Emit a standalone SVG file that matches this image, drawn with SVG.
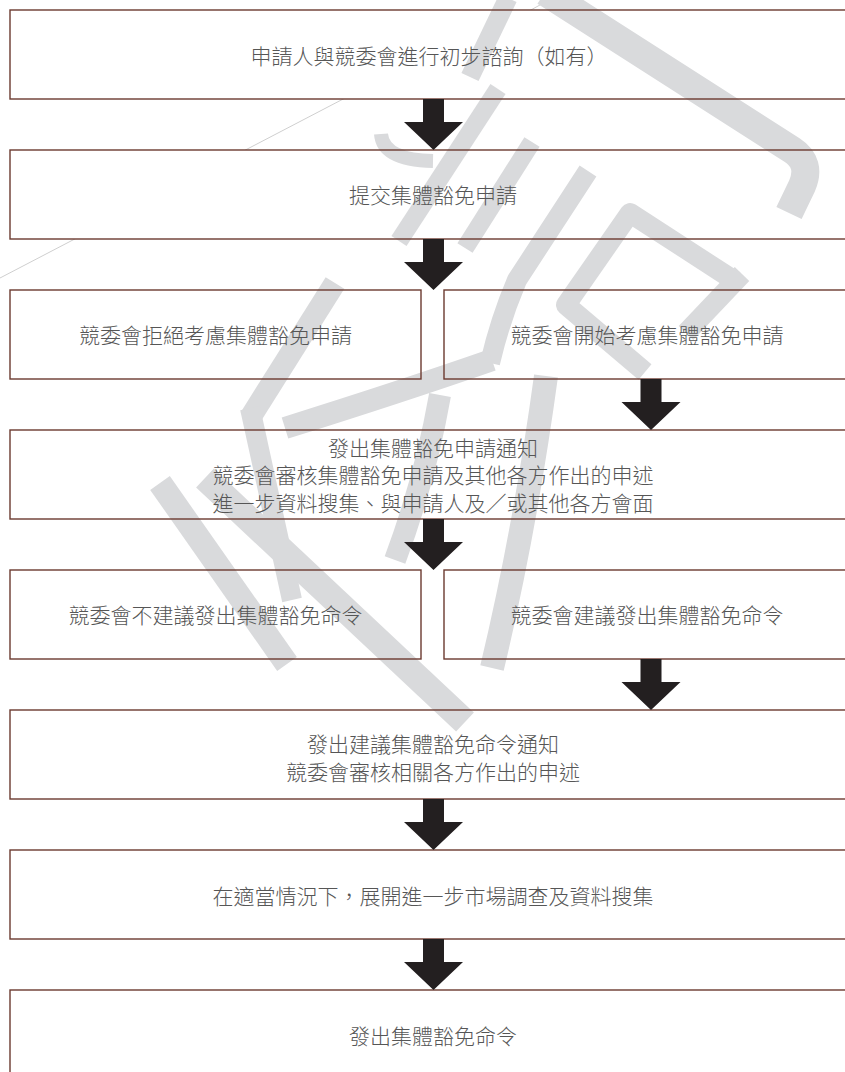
<svg xmlns="http://www.w3.org/2000/svg" width="845" height="1072" viewBox="0 0 845 1072">
<style>
.box{fill:#ffffff;stroke:none}
.bd{fill:none;stroke:#6b3a2f;stroke-width:1.4}
.t{font-family:"Noto Sans CJK TC","Noto Sans CJK SC",sans-serif;font-size:21px;font-weight:300;fill:#565656;text-anchor:middle}
.wm{fill:none;stroke:#d9dadc;stroke-linecap:butt;stroke-linejoin:round}
.arr{fill:#231f20}
</style>
<defs>
<path id="a" d="M-10.5,0 H10.5 V23 H29.5 L0,51 L-29.5,23 H-10.5 Z"/>
</defs>
<rect width="845" height="1072" fill="#ffffff"/>
<line x1="0" y1="278" x2="347" y2="97" stroke="#cfcfcf" stroke-width="1"/>
<line x1="529" y1="11" x2="549" y2="0" stroke="#cfcfcf" stroke-width="1"/>
<g id="fills">
<rect class="box" x="10" y="10" width="845" height="89"/>
<rect class="box" x="10" y="150" width="845" height="89"/>
<rect class="box" x="10" y="290" width="411" height="89"/>
<rect class="box" x="444" y="290" width="411" height="89"/>
<rect class="box" x="10" y="430" width="845" height="89"/>
<rect class="box" x="10" y="570" width="411" height="89"/>
<rect class="box" x="444" y="570" width="411" height="89"/>
<rect class="box" x="10" y="710" width="845" height="89"/>
<rect class="box" x="10" y="850" width="845" height="89"/>
<rect class="box" x="10" y="990" width="845" height="89"/>
</g>
<g id="watermark">
<path class="wm" stroke-width="28" d="M545,-8 L792,150 Q812,163 802,186 L789,213"/>
<path class="wm" stroke-width="19" d="M508,-2 L470,77"/>
<path class="wm" stroke-width="18" d="M498,89 L399,241"/>
<path class="wm" stroke-width="14" d="M381,134 Q383,160 433,161"/>
<path class="wm" stroke-width="18" d="M532,142 L465,248"/>
<path class="wm" stroke-width="20" d="M588,171 L517,280 Q500,320 490,363"/>
<path class="wm" stroke-width="20" d="M735,281 L630,213 L566,305 L645,372"/>
<path class="wm" stroke-width="20" d="M742,274 L686,333"/>
<path class="wm" stroke-width="22" d="M335,283 L250,418"/>
<path class="wm" stroke-width="22" d="M492,360 Q400,392 285,428"/>
<path class="wm" stroke-width="20" d="M250,408 L292,600"/>
<path class="wm" stroke-width="24" d="M160,483 L287,664"/>
<path class="wm" stroke-width="26" d="M205,478 L465,722"/>
<path class="wm" stroke-width="22" d="M440,395 Q425,480 395,560"/>
<path class="wm" stroke-width="24" d="M546,376 Q525,530 492,668"/>
</g>
<g id="borders">
<rect class="bd" x="10" y="10" width="845" height="89"/>
<rect class="bd" x="10" y="150" width="845" height="89"/>
<rect class="bd" x="10" y="290" width="411" height="89"/>
<rect class="bd" x="444" y="290" width="411" height="89"/>
<rect class="bd" x="10" y="430" width="845" height="89"/>
<rect class="bd" x="10" y="570" width="411" height="89"/>
<rect class="bd" x="444" y="570" width="411" height="89"/>
<rect class="bd" x="10" y="710" width="845" height="89"/>
<rect class="bd" x="10" y="850" width="845" height="89"/>
<rect class="bd" x="10" y="990" width="845" height="89"/>
</g>
<g id="n1"><text class="t" x="429" y="63.5">申請人與競委會進行初步諮詢（如有）</text></g>
<g id="n2"><text class="t" x="433" y="203">提交集體豁免申請</text></g>
<g id="n3a"><text class="t" x="215.5" y="343">競委會拒絕考慮集體豁免申請</text></g>
<g id="n3b"><text class="t" x="647" y="343">競委會開始考慮集體豁免申請</text></g>
<g id="n4"><text class="t" x="433" y="455.5"><tspan x="433" y="455.5">發出集體豁免申請通知</tspan><tspan x="433" y="483">競委會審核集體豁免申請及其他各方作出的申述</tspan><tspan x="433" y="510.5">進一步資料搜集、與申請人及／或其他各方會面</tspan></text></g>
<g id="n5a"><text class="t" x="215.5" y="623">競委會不建議發出集體豁免命令</text></g>
<g id="n5b"><text class="t" x="647" y="623">競委會建議發出集體豁免命令</text></g>
<g id="n6"><text class="t" x="433" y="752"><tspan x="433" y="752">發出建議集體豁免命令通知</tspan><tspan x="433" y="779.5">競委會審核相關各方作出的申述</tspan></text></g>
<g id="n7"><text class="t" x="433" y="904">在適當情況下，展開進一步市場調查及資料搜集</text></g>
<g id="n8"><text class="t" x="433" y="1044">發出集體豁免命令</text></g>
<g id="connectors">
<use href="#a" class="arr" x="433.5" y="99"/>
<use href="#a" class="arr" x="433.5" y="239"/>
<use href="#a" class="arr" x="651" y="379"/>
<use href="#a" class="arr" x="433.5" y="519"/>
<use href="#a" class="arr" x="651" y="659"/>
<use href="#a" class="arr" x="433.5" y="799"/>
<use href="#a" class="arr" x="433.5" y="939"/>
</g>
</svg>
